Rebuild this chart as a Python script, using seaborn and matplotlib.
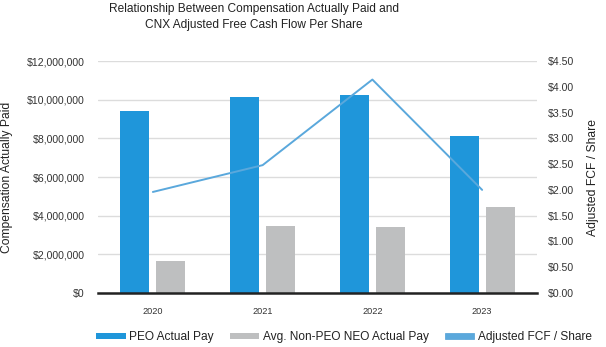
import matplotlib
matplotlib.use("Agg")
import matplotlib.pyplot as plt
import matplotlib.ticker as mticker
from matplotlib.patches import Patch
import numpy as np
import pandas as pd
import seaborn as sns

years = ["2020", "2021", "2022", "2023"]
peo_pay = [9410000, 10120000, 10230000, 8100000]
neo_pay = [1660000, 3450000, 3410000, 4450000]
fcf_per_share = [1.96, 2.48, 4.14, 2.00]
series_names = ["PEO Actual Pay", "Avg. Non-PEO NEO Actual Pay", "Adjusted FCF / Share"]
left_ticks = [0, 2000000, 4000000, 6000000, 8000000, 10000000, 12000000]
right_ticks = [0, 0.5, 1.0, 1.5, 2.0, 2.5, 3.0, 3.5, 4.0, 4.5]

c_peo = "#1f96da"
c_neo = "#bebfc0"
c_line = "#5aa8dc"

sns.set_theme(style="white")
plt.rcParams["font.family"] = ["Liberation Sans", "DejaVu Sans"]

df = pd.DataFrame({
    "Year": years * 2,
    "Value": peo_pay + neo_pay,
    "Series": [series_names[0]] * len(years) + [series_names[1]] * len(years),
})
line_df = pd.DataFrame({"pos": np.arange(len(years)), "fcf": fcf_per_share})

fig = plt.figure(figsize=(6.06, 3.47), dpi=100)
ax = fig.add_axes([98 / 606, 1 - 293 / 347, (537 - 98) / 606, (293 - 61) / 347])

sns.barplot(data=df, x="Year", y="Value", hue="Series", order=years,
            hue_order=series_names[:2], palette=[c_peo, c_neo],
            width=0.656, gap=0.195, saturation=1, legend=False, ax=ax,
            edgecolor="none")
ax.set_xlim(-0.5, len(years) - 0.5)
ax.set_ylim(0, 12000000)
ax.set_yticks(left_ticks)
ax.yaxis.set_major_formatter(mticker.FuncFormatter(lambda v, p: f"${v:,.0f}"))
ax.grid(axis="y", color="#dcdcdc", linewidth=1)
ax.set_axisbelow(True)
for s in ["top", "right", "left"]:
    ax.spines[s].set_visible(False)
ax.spines["bottom"].set_color("#222222")
ax.spines["bottom"].set_linewidth(1.8)
ax.spines["bottom"].set_zorder(5)
ax.tick_params(axis="y", length=0, pad=9.5, labelsize=7.6, labelcolor="#333333")
ax.tick_params(axis="x", length=0, pad=10, labelsize=6.6, labelcolor="#333333")
ax.set_xlabel("")
ax.set_ylabel("Compensation Actually Paid", fontsize=8.7, color="#222222")
ax.yaxis.set_label_coords(-84.5 / 439, 0.5)

ax2 = ax.twinx()
sns.lineplot(data=line_df, x="pos", y="fcf", color=c_line, linewidth=1.4, ax=ax2)
ax2.set_ylim(0, 4.5)
ax2.set_yticks(right_ticks)
ax2.yaxis.set_major_formatter(mticker.FuncFormatter(lambda v, p: f"${v:.2f}"))
for s in ["top", "right", "left", "bottom"]:
    ax2.spines[s].set_visible(False)
ax2.tick_params(axis="y", length=0, pad=8, labelsize=7.6, labelcolor="#333333")
ax2.set_ylabel("Adjusted FCF / Share", fontsize=8.7, color="#222222")
ax2.yaxis.set_label_coords(1 + 50 / 439, 0.5)
ax2.set_xlim(-0.5, len(years) - 0.5)
ax2.set_xlabel("")

fig.text(254 / 606, 1 - 17 / 347,
         "Relationship Between Compensation Actually Paid and\nCNX Adjusted Free Cash Flow Per Share",
         ha="center", va="center", fontsize=8.6, color="#222222", linespacing=1.35)

handles = [Patch(facecolor=c_peo, edgecolor="none"),
           Patch(facecolor=c_neo, edgecolor="none"),
           Patch(facecolor=c_line, edgecolor="#4f9fd6", linewidth=0.5)]
fig.legend(handles, series_names, loc="center", bbox_to_anchor=(344 / 606, 1 - 337 / 347),
           ncol=3, frameon=False, fontsize=8.6, handlelength=2.45, handleheight=0.42,
           handletextpad=0.3, columnspacing=1.35, labelcolor="#222222")

fig.savefig("out.png", dpi=100)
